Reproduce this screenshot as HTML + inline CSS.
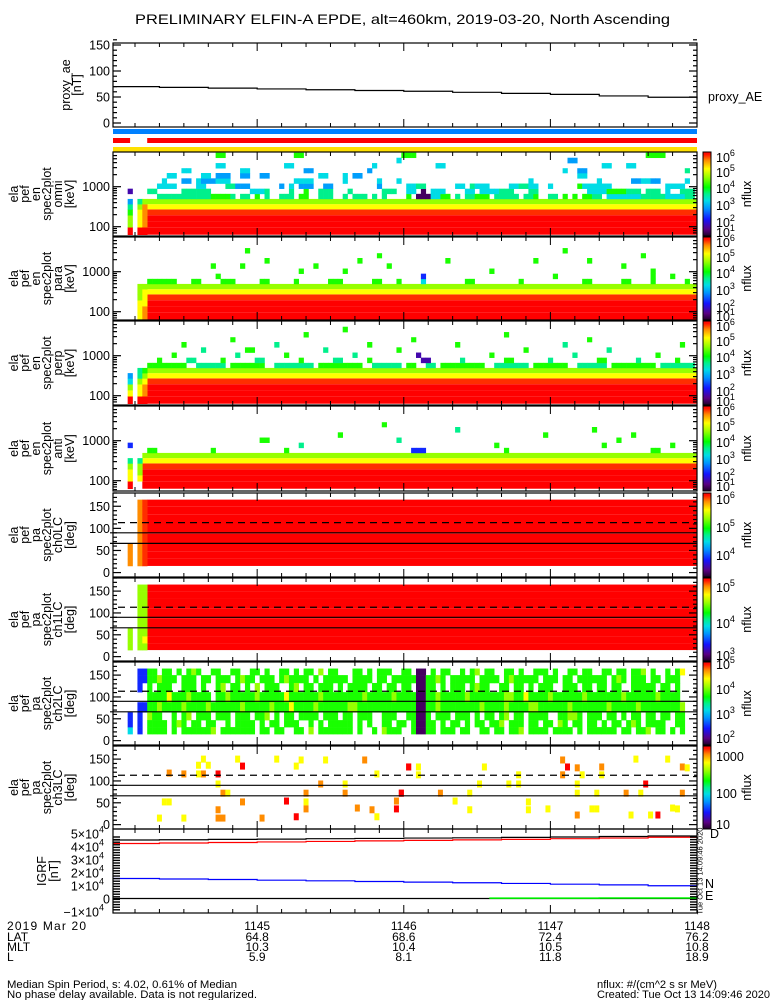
<!DOCTYPE html>
<html><head><meta charset="utf-8"><title>ELFIN-A EPDE</title>
<style>
html,body{margin:0;padding:0;background:#fff;}
svg{display:block;font-family:"Liberation Sans",sans-serif;}
text{fill:#000;}
</style></head>
<body>
<svg id="chart" width="775" height="1000" viewBox="0 0 775 1000" xmlns="http://www.w3.org/2000/svg">
<defs>
<linearGradient id="cmap" x1="0" y1="1" x2="0" y2="0">
<stop offset="0" stop-color="rgb(32,0,40)"/><stop offset="0.08" stop-color="rgb(90,0,130)"/><stop offset="0.2" stop-color="rgb(20,20,255)"/><stop offset="0.33" stop-color="rgb(0,150,255)"/><stop offset="0.42" stop-color="rgb(0,220,230)"/><stop offset="0.5" stop-color="rgb(0,240,140)"/><stop offset="0.58" stop-color="rgb(0,255,0)"/><stop offset="0.7" stop-color="rgb(150,255,0)"/><stop offset="0.8" stop-color="rgb(255,255,0)"/><stop offset="0.9" stop-color="rgb(255,140,0)"/><stop offset="0.97" stop-color="rgb(255,20,0)"/><stop offset="1" stop-color="rgb(255,0,0)"/>
</linearGradient>
</defs>
<text x="135" y="24" font-size="14" textLength="535" lengthAdjust="spacingAndGlyphs">PRELIMINARY ELFIN-A EPDE, alt=460km, 2019-03-20, North Ascending</text>
</svg>
<script>
// ---------------- data ----------------
const aeTimes = [1,20,40,60,80,100,120,140,160,180,200,220,240];
const aeValues = [70,68.5,67,65.5,64,62.5,61,59,57,55,52,49.5,47];
const xTickTimes = [60,120,180,240];
const xTickLabels = ['1145','1146','1147','1148'];
const latLabels = ['64.8','68.6','72.4','76.2'];
const mltLabels = ['10.3','10.4','10.5','10.8'];
const lLabels = ['5.9','8.1','11.8','18.9'];
const energyEdges = [63,97,138,194,271,367,495,663,893,1200,1620,2200,2900,3900,5300,7100];
const paEdges = [15,31,47,65,88,111,132,150,165];
const lossConeDashed = 113;
const lossConeSolid = [90,66];
// spectrogram P1 omni
const p1Bulk = ['r','r','r','R','y','l'];
const p1Left = [[3,['r','l','l','g','t','b',null,'q']],[5,['r','y','y','y','l','t']],[6,['r','o','o','o','o','l']]];
const p1Runs = [[6,9,12,'t'],[6,13,16,'t'],[6,17,19,'t'],[6,20,23,'g'],[6,24,24,'t'],[6,26,27,'t'],[6,29,29,'g'],[6,31,31,'t'],[6,34,36,'t'],[6,38,39,'g'],[6,42,44,'t'],[6,47,47,'t'],[6,49,51,'t'],[6,53,53,'t'],[6,55,55,'t'],[6,60,60,'g'],[6,62,64,'p'],[6,65,66,'c'],[6,67,68,'g'],[6,70,70,'t'],[6,72,73,'t'],[6,74,76,'g'],[6,78,82,'t'],[6,84,85,'t'],[6,86,86,'g'],[6,89,90,'t'],[6,92,92,'g'],[6,94,94,'g'],[6,96,97,'g'],[6,98,99,'t'],[6,101,107,'c'],[6,108,112,'t'],[6,113,116,'c'],[6,117,118,'t'],
[7,7,8,'t'],[7,14,16,'t'],[7,17,19,'t'],[7,28,30,'c'],[7,31,31,'t'],[7,36,36,'t'],[7,39,39,'g'],[7,42,44,'t'],[7,48,48,'t'],[7,55,57,'t'],[7,60,61,'c'],[7,63,63,'p'],[7,65,67,'c'],[7,72,73,'c'],[7,75,78,'c'],[7,79,81,'t'],[7,85,86,'t'],[7,97,100,'c'],[7,101,102,'g'],[7,103,104,'g'],[7,105,107,'t'],[7,109,111,'t'],[7,113,113,'c'],[7,116,118,'t'],
[8,9,10,'c'],[8,11,12,'c'],[8,17,18,'c'],[8,23,24,'t'],[8,25,27,'b'],[8,34,34,'b'],[8,36,36,'c'],[8,38,40,'b'],[8,43,44,'b'],[8,54,54,'b'],[8,60,61,'c'],[8,62,63,'t'],[8,70,71,'c'],[8,73,73,'t'],[8,74,76,'c'],[8,81,82,'c'],[8,83,84,'t'],[8,85,86,'c'],[8,89,89,'c'],[8,95,95,'g'],[8,96,97,'c'],[8,98,101,'c'],[8,113,116,'c'],
[9,10,10,'c'],[9,14,15,'b'],[9,17,17,'c'],[9,18,20,'b'],[9,21,23,'c'],[9,37,40,'c'],[9,47,47,'c'],[9,54,54,'c'],[9,58,58,'c'],[9,85,85,'c'],[9,99,99,'c'],[9,106,107,'b'],[9,108,109,'c'],[9,110,111,'b'],[9,117,117,'c'],
[10,11,12,'c'],[10,18,19,'c'],[10,21,23,'b'],[10,26,27,'b'],[10,30,31,'b'],[10,42,43,'c'],[10,47,47,'c'],[10,49,50,'b'],[10,95,96,'c'],
[11,14,15,'c'],[11,26,27,'c'],[11,39,40,'b'],[11,52,52,'b'],[11,92,92,'c'],[11,95,96,'b'],[11,117,117,'t'],
[12,21,22,'c'],[12,35,36,'c'],[12,53,53,'c'],[12,66,67,'c'],[12,100,101,'c'],[12,105,106,'c'],
[13,58,58,'c'],[13,93,94,'b'],
[14,21,22,'g'],[14,37,38,'g'],[14,59,61,'g'],[14,109,110,'g'],[14,111,112,'g']];
// P2 para
const p2Bulk = ['r','r','r','R','y','l'];
const p2Left = [[5,['y','y','y','l','l','l']],[6,['o','o','y','y','y','l']]];
const p2Runs = [[6,7,12,'g'],[6,16,17,'g'],[6,22,24,'g'],[6,30,31,'g'],[6,37,37,'g'],[6,44,46,'g'],[6,53,54,'g'],[6,58,58,'g'],[6,63,63,'c'],[6,72,73,'g'],[6,83,83,'g'],[6,96,97,'g'],[6,104,105,'g'],[6,110,110,'g'],[6,117,117,'g'],
[7,21,21,'g'],[7,63,63,'u'],[7,90,90,'g'],[7,110,110,'g'],[7,114,114,'g'],
[8,38,38,'g'],[8,47,47,'g'],[8,77,77,'g'],[8,110,110,'g'],
[9,20,20,'g'],[9,26,26,'g'],[9,41,41,'g'],[9,56,56,'g'],[9,104,104,'g'],
[10,31,31,'g'],[10,50,50,'g'],[10,68,68,'g'],[10,86,86,'g'],[10,97,97,'g'],
[11,54,54,'g'],[11,108,108,'g'],[12,27,27,'g'],[12,92,92,'g']];
// P3 perp
const p3Bulk = ['r','r','r','R','y','l'];
const p3Left = [[3,['r','y','l','c','b',null]],[5,['r','y','y','l','t','t']],[6,['r','o','o','y','l','g']]];
const p3Runs = [[6,7,14,'g'],[6,17,22,'t'],[6,24,30,'g'],[6,33,40,'t'],[6,42,50,'g'],[6,53,58,'t'],[6,60,61,'g'],[6,64,65,'t'],[6,67,75,'g'],[6,78,84,'t'],[6,86,92,'g'],[6,95,100,'t'],[6,102,110,'g'],[6,112,118,'t'],
[7,9,9,'g'],[7,15,16,'t'],[7,22,22,'g'],[7,29,30,'t'],[7,38,38,'g'],[7,45,46,'t'],[7,52,52,'g'],[7,63,64,'q'],[7,71,71,'t'],[7,80,81,'g'],[7,89,89,'t'],[7,99,100,'g'],[7,107,107,'t'],[7,115,115,'g'],
[8,12,12,'g'],[8,25,25,'t'],[8,35,35,'g'],[8,49,49,'t'],[8,62,62,'q'],[8,77,77,'g'],[8,94,94,'t'],[8,111,111,'g'],
[9,18,18,'t'],[9,27,28,'g'],[9,43,43,'t'],[9,58,58,'g'],[9,84,84,'g'],[9,101,101,'t'],
[10,14,14,'g'],[10,33,33,'t'],[10,52,52,'g'],[10,70,70,'g'],[10,92,92,'t'],[10,116,116,'g'],
[11,24,24,'g'],[11,61,61,'g'],[11,97,97,'g'],[12,39,39,'g'],[12,80,80,'g'],[13,47,47,'g']];
// P4 anti
const p4Bulk = ['r','r','r','R','y','l'];
const p4Left = [[3,['r','y','y','l','t',null,null,'u']],[5,[null,'y','l','l','t',null]]];
const p4Runs = [[6,7,8,'g'],[6,20,20,'g'],[6,35,35,'g'],[6,61,63,'u'],[6,80,80,'g'],[6,110,111,'g'],
[7,38,38,'t'],[7,78,78,'g'],[7,100,100,'g'],[7,114,114,'g'],
[8,30,31,'g'],[8,58,58,'t'],[8,103,103,'g'],[9,46,46,'g'],[9,88,88,'g'],[9,106,106,'g'],
[10,70,70,'t'],[10,98,98,'g'],[11,55,55,'g']];
// P5 ch0LC, P6 ch1LC pitch-angle bulk
const p5Bulk = ['r','r','r','r','r','r','r','r'];
const p5Left = [[3,['o','o','o',null,null,null,null,null]],[5,['o','o','o','o','o','o','o','o']],[6,['R','R','R','R','R','R','R','R']]];
const p6Bulk = ['r','r','r','r','r','r','r','r'];
const p6Left = [[3,['l','l','l',null,null,null,null,null]],[5,['l','l','l','l','l','l','l','l']],[6,['l','y','l','l','l','l','l','l']]];
// P7 ch2LC rows (top row first), columns from c=7
const p7Rows = [
"gg.gg.g.gl"+"g..gg..gg."+".gg.g..gg."+"g.gg.l.gg."+"..gg.g.ggg"+"..gg.pp.g."+"gg..g.gl.g"+"g..gg.g..g"+"gg.g..gg.g"+"g..gg.gg.g"+"gl.g..g.gy",
"gglggg.ggg"+".gg.ggg.gl"+"gg.ggg.glg"+"ggg.g.gggg"+"g.gggg.gg."+"gggggppggl"+"g.ggggg.gg"+"gg.glggggg"+".ggg.gg.gg"+"gggg.glg.g"+"gg.gg.ggg",
"g.ggg..ggg"+".g..gl.gg."+"g.l.ggg..g"+"l.gg.ggg.g"+".gggg.gg.g"+"g.gg.ppgg."+"g.ggg.glgg"+"..gg.gg.g."+"ggg..ggg.g"+"g.gg.gg..g"+"gggg.gg.g",
"ggggyggglg"+"ggg.gglggg"+"gglgggggyg"+"ggggglgggg"+"gggglggggg"+"lggggppggl"+"ggggglgggg"+"gggllggygg"+"gglggggggl"+"ggggggglgg"+"gggglgggg",
"gglgggglgg"+"gglggggggl"+"ggggglgggy"+"gggglggggg"+"gllggggggg"+"gggggppggl"+"gggggggglg"+"ggglggggll"+"gggggglggg"+"gggglggggg"+"lggggggggl",
"lgg..g.gl."+"ggg.ggg.gg"+"g.ggl.g.gg"+".gggg.ggg."+"gg.ggg..gg"+"g..ggppg.g"+"gg.ggg.g.g"+"g.gl.gg.gg"+"gg..ggllg."+"ggg.gg.g.g"+"g.gg.gg.gg",
"gggg.glg.g"+"g.gg..g.gg"+"gg.g.gg.gg"+"g..g.g.ggg"+"gg.g.g..gg"+".gg.gppgg."+"g.gg.g.gg."+"ggl.ggg.gg"+".gg.lg.gg."+"gg.g.gg.gl"+"g.gggg..gg",
"gggg.g.ggg"+"gggl.ggggg"+"gg.gg.gg.."+"gg.l.ggggg"+"gg.g..g.lg"+"gg..gppgg."+"ggg.gg..gg"+".gg.ggl.gg"+"gg.gggg.g."+"gggggg.gg."+"ggl.gg.g.g"];
const p7Left = [[3,['c','u','u',null,null,null,null,null]],[5,['u','u','u','u',null,'u','u','u']],[6,[null,null,null,'u',null,null,'u','u']]];
// P8 ch3LC sparse points: time (s after 11:44:00), pitch angle (deg), level code
const p8Times = [38,52,68,78,88,104,36,40,54,76,122,24,30,36,38,44,109,44,86,96,46,48,80,96,119,22,24,54,72,80,117,44,80,101,107,117,20,30,44,46,62,76,109,122,126,126,153,185,187,191,201,215,228,234,236,185,193,201,167,151,163,167,191,219,119,135,147,191,199,211,217,234,141,171,171,147,179,197,199,230,232,191,213,221,224];
const p8Pitch = [150,150,150,148,148,148,136,136,134,134,132,118,116,116,116,116,116,93,93,93,72,72,72,72,72,52,52,52,54,52,54,34,36,38,34,36,15,15,15,15,15,18,18,132,132,114,132,148,132,130,132,150,150,132,130,114,114,114,114,93,93,93,93,93,72,72,72,72,72,72,72,72,54,52,34,34,36,36,36,38,36,22,22,22,22];
const p8Levels = ['y','y','y','y','y','o','y','y','r','y','r','o','o','y','o','r','y','y','o','y','o','y','o','o','r','y','y','o','r','y','o','o','o','o','o','r','y','y','o','o','o','r','y','r','y','y','y','o','r','o','o','y','y','o','y','o','y','y','y','y','y','y','y','r','r','o','y','y','y','o','y','o','y','y','y','y','y','y','y','y','y','o','y','y','r'];
// IGRF components (units 1e4 nT)
const igTimes = [1,20,40,60,80,100,120,140,160,180,200,220,240];
const igF = [4.50,4.52,4.55,4.57,4.60,4.62,4.65,4.67,4.70,4.73,4.77,4.81,4.86];
const igD = [4.23,4.27,4.31,4.35,4.39,4.43,4.47,4.51,4.55,4.60,4.65,4.71,4.77];
const igN = [1.54,1.50,1.46,1.41,1.36,1.31,1.26,1.21,1.16,1.10,1.05,0.98,0.92];
const igETimes = [155,180,200,220,240];
const igE = [0.03,0.03,0.04,0.04,0.05];

// ---------------- helpers ----------------
const NS='http://www.w3.org/2000/svg';
const svg=document.getElementById('chart');
function mk(tag,attrs,parent){const e=document.createElementNS(NS,tag);for(const k in attrs)e.setAttribute(k,attrs[k]);(parent||svg).appendChild(e);return e;}
const X0=113,X1=697;
function tX(t){return X0+(t-1)*(X1-X0)/239;}
const LV={r:1,R:0.955,o:0.9,y:0.8,l:0.7,g:0.6,t:0.5,c:0.42,b:0.34,u:0.22,q:0.12,p:0.05};
const STOPS=[[0,[32,0,40]],[0.08,[90,0,130]],[0.2,[20,20,255]],[0.33,[0,150,255]],[0.42,[0,220,230]],[0.5,[0,240,140]],[0.58,[0,255,0]],[0.7,[150,255,0]],[0.8,[255,255,0]],[0.9,[255,140,0]],[0.97,[255,20,0]],[1,[255,0,0]]];
function col(code){const v=LV[code];for(let i=1;i<STOPS.length;i++){if(v<=STOPS[i][0]){const a=STOPS[i-1],b=STOPS[i];const f=(v-a[0])/(b[0]-a[0]);const c=a[1].map((x,k)=>Math.round(x+(b[1][k]-x)*f));return `rgb(${c[0]},${c[1]},${c[2]})`;}}return 'rgb(255,0,0)';}

const P=[
 {top:152,bot:236,kind:'spec',lab:['ela','pef','en','spec2plot','omni','[keV]'],bulk:p1Bulk,left:p1Left,runs:p1Runs,start:7,cb:[['10','6',5],['10','5',20],['10','4',36],['10','3',53],['10','2',70],['10','1',80]]},
 {top:237,bot:320,kind:'spec',lab:['ela','pef','en','spec2plot','para','[keV]'],bulk:p2Bulk,left:p2Left,runs:p2Runs,start:7,cb:[['10','6',5],['10','5',20],['10','4',36],['10','3',53],['10','2',70],['10','1',79]]},
 {top:321,bot:405,kind:'spec',lab:['ela','pef','en','spec2plot','perp','[keV]'],bulk:p3Bulk,left:p3Left,runs:p3Runs,start:7,cb:[['10','6',5],['10','5',20],['10','4',36],['10','3',53],['10','2',70],['10','1',80]]},
 {top:406,bot:491,kind:'spec',lab:['ela','pef','en','spec2plot','anti','[keV]'],bulk:p4Bulk,left:p4Left,runs:p4Runs,start:6,cb:[['10','6',5],['10','5',20],['10','4',36],['10','3',53],['10','2',70],['10','1',80]]},
 {top:493,bot:577,kind:'pa',lab:['ela','pef','pa','spec2plot','ch0LC','[deg]'],bulk:p5Bulk,left:p5Left,start:7,cb:[['10','6',6],['10','5',34],['10','4',62]]},
 {top:578,bot:661,kind:'pa',lab:['ela','pef','pa','spec2plot','ch1LC','[deg]'],bulk:p6Bulk,left:p6Left,start:7,cb:[['10','5',9],['10','4',45],['10','3',77]]},
 {top:662,bot:745,kind:'pa',lab:['ela','pef','pa','spec2plot','ch2LC','[deg]'],rows:p7Rows,left:p7Left,start:7,cb:[['10','5',2],['10','4',27],['10','3',52],['10','2',76]]},
 {top:746,bot:829,kind:'pa',lab:['ela','pef','pa','spec2plot','ch3LC','[deg]'],pts:true,cb:[['1000','',10],['100','',47],['10','',78]]}
];
function eY(E,p){return p.top+34.7-40*(Math.log10(E)-3);}
function paY(a,p){return p.bot-(a+10)*(p.bot-p.top)/190;}
function cellX(c){return tX(1+2*c);}
function cellW(c){return tX(3+2*c)-tX(1+2*c)+0.3;}

function xTicks(top,bot,name){
 for(let t=10;t<240;t+=10){
  const x=tX(t);const major=(t%60===0);const L=major?8:4;
  const a=mk('line',{x1:x,x2:x,y1:bot,y2:bot-L,stroke:'#000','stroke-width':1});
  
  
  const b=mk('line',{x1:x,x2:x,y1:top,y2:top+L,stroke:'#000','stroke-width':1});
  
  
 }
}
function frame(top,bot,name){
 const r=mk('rect',{x:X0,y:top,width:X1-X0,height:bot-top,fill:'none',stroke:'#000','stroke-width':1.2});
 
 
}
function yTick(y,L,name){
 const a=mk('line',{x1:X0,x2:X0+L,y1:y,y2:y,stroke:'#000','stroke-width':1.2});
 
 
 const b=mk('line',{x1:X1,x2:X1-L,y1:y,y2:y,stroke:'#000','stroke-width':1.2});
 
 
}
function yLabel(y,txt,name){
 const t=mk('text',{x:110,y:y+4.5,'font-size':12.5,'text-anchor':'end'});
 t.textContent=txt;
 
 
}
function axisTitle(lines,xs,ymid,name){
 lines.forEach((s,i)=>{
  const t=mk('text',{x:xs[i],y:ymid,'font-size':12.5,'text-anchor':'middle','dominant-baseline':'central',transform:`rotate(-90 ${xs[i]} ${ymid})`});
  t.textContent=s;
  
  
 });
}

// ---------------- proxy AE panel ----------------
const aeTop=43,aeBot=127;
function aeY(v){return 123-v*0.52;}
{
 let d='';
 aeTimes.forEach((t,i)=>{const x=tX(t),y=aeY(aeValues[i]);if(i===0)d+=`M${x},${y}`;else d+=`H${x}V${y}`;});
 d+=`H${X1}`;
 const pl=mk('path',{d:d,fill:'none',stroke:'#000','stroke-width':1.2});
 
 
 for(let v=0;v<=160;v+=10){yTick(aeY(v),v%50===0?8:4,'proxy-ae');}
 [0,50,100,150].forEach(v=>yLabel(aeY(v),String(v),'proxy-ae'));
 xTicks(aeTop,aeBot,'proxy-ae');
 frame(aeTop,aeBot,'proxy-ae');
 axisTitle(['proxy_ae','[nT]'],[66,77],(aeTop+aeBot)/2,'proxy-ae');
 const lt=mk('text',{x:708,y:101,'font-size':12.5});
 lt.textContent='proxy_AE';
 
 
}
// status bars
{
 const b1=mk('rect',{x:X0,y:129,width:X1-X0,height:5,fill:'rgb(0,128,255)'});
 
 
 const b2=mk('rect',{x:X0,y:138,width:tX(8)-X0,height:5,fill:'#ff0000'});
 
 
 const b3=mk('rect',{x:tX(15),y:138,width:X1-tX(15),height:5,fill:'#ff0000'});
 
 
 const b4=mk('rect',{x:X0,y:147,width:X1-X0,height:4.5,fill:'rgb(255,224,0)'});
 
 
}

// ---------------- spectrogram / pitch panels ----------------
const defs=svg.querySelector('defs');
P.forEach((p,pi)=>{
 const cp=mk('clipPath',{id:'clip'+pi},defs);
 mk('rect',{x:X0,y:p.top,width:X1-X0,height:p.bot-p.top},cp);
 const g=mk('g',{'clip-path':`url(#clip${pi})`});
 
 
 const rowY = p.kind==='spec' ? (b=>[eY(energyEdges[b+1],p),eY(energyEdges[b],p)]) : (b=>[paY(paEdges[b+1],p),paY(paEdges[b],p)]);
 if(p.bulk){
  p.bulk.forEach((code,b)=>{
   if(!code)return;
   const [y0,y1]=rowY(b);
   const r=mk('rect',{x:cellX(p.start),y:y0,width:X1-cellX(p.start)+2,height:y1-y0,fill:col(code)},g);
   
   
  });
 }
 const cell=(c,b,code)=>{
  const [y0,y1]=rowY(b);
  const r=mk('rect',{x:cellX(c),y:y0,width:cellW(c),height:y1-y0+0.3,fill:col(code)},g);
  
  
 };
 if(p.left){p.left.forEach(([c,arr])=>arr.forEach((code,b)=>{if(code)cell(c,b,code);}));}
 if(p.runs){p.runs.forEach(([b,c0,c1,code])=>{for(let c=c0;c<=c1;c++)cell(c,b,code);});}
 if(p.rows){
  p.rows.forEach((s,ri)=>{
   const b=p.rows.length-1-ri;
   for(let k=0;k<s.length;k++){const ch=s[k];if(ch!=='.'){const c=p.start+k;if(c<=118)cell(c,b,ch);}}
  });
 }
 if(p.pts){
  p8Times.forEach((t,i)=>{
   const x=tX(t),y=paY(p8Pitch[i],p);
   const r=mk('rect',{x:x-2.5,y:y-3.5,width:5,height:7,fill:col(p8Levels[i])},g);
   
   
  });
 }
 const name='panel-'+(pi+1);
 if(p.kind==='pa'){
  const dl=mk('line',{x1:X0+5,x2:X1,y1:paY(lossConeDashed,p),y2:paY(lossConeDashed,p),stroke:'#000','stroke-width':1.2,'stroke-dasharray':'7,5'});
  
  
  lossConeSolid.forEach(a=>{
   const sl=mk('line',{x1:X0-3,x2:X1,y1:paY(a,p),y2:paY(a,p),stroke:'#000','stroke-width':1.2});
   
   
  });
  for(let v=-10;v<=180;v+=10){if(v>=0)yTick(paY(v,p),v%50===0?8:4,name);}
  [0,50,100,150].forEach(v=>yLabel(paY(v,p),String(v),name));
 } else {
  for(let n=1;n<=3;n++){for(let k=1;k<=9;k++){const E=k*Math.pow(10,n);const y=eY(E,p);if(y>p.top+1&&y<p.bot-0.5)yTick(y,k===1?8:4,name);}}
  yLabel(eY(100,p),'100',name);yLabel(eY(1000,p),'1000',name);
 }
 xTicks(p.top,p.bot,name);
 frame(p.top,p.bot,name);
 axisTitle(p.lab,[14,25,36,47,58,70],(p.top+p.bot)/2,name);
 // colorbar
 const cb=mk('rect',{x:703,y:p.top,width:8,height:p.bot-p.top,fill:'url(#cmap)',stroke:'#000','stroke-width':1});
 
 
 p.cb.forEach(([base,ex,off])=>{
  const t=mk('text',{x:716,y:p.top+off+5,'font-size':12.5});
  t.textContent=base;
  if(ex){const s=mk('tspan',{dy:-6,'font-size':9},t);s.textContent=ex;}
  
  
 });
 const nf=mk('text',{x:747,y:(p.top+p.bot)/2,'font-size':12.5,'text-anchor':'middle','dominant-baseline':'central',transform:`rotate(-90 747 ${(p.top+p.bot)/2})`});
 nf.textContent='nflux';
 
 
});

// ---------------- IGRF panel ----------------
const igTop=829,igBot=913;
function igY(v){return 898.5-v*13;}
{
 const stepPath=(ts,vs,end)=>{let d='';ts.forEach((t,i)=>{const x=tX(t),y=igY(vs[i]);if(i===0)d+=`M${x},${y}`;else d+=`H${x}V${y}`;});return d+`H${end}`;};
 const z=mk('line',{x1:X0,x2:X1,y1:igY(0),y2:igY(0),stroke:'#000','stroke-width':1.2});
 
 
 const f=mk('path',{d:stepPath(igTimes,igF,X1),fill:'none',stroke:'#000','stroke-width':1.2});
 
 
 const dL=mk('path',{d:stepPath(igTimes,igD,X1),fill:'none',stroke:'#ff0000','stroke-width':1.2});
 
 
 const nL=mk('path',{d:stepPath(igTimes,igN,X1),fill:'none',stroke:'#0000ff','stroke-width':1.2});
 
 
 const eL=mk('path',{d:stepPath(igETimes,igE,X1),fill:'none',stroke:'#00ff00','stroke-width':1.5});
 
 
 for(let y=igTop+8;y<igBot-1;y+=2.6){
  const a=mk('line',{x1:X0,x2:X0+7,y1:y,y2:y,stroke:'#000','stroke-width':1.4});
  
  
  const b=mk('line',{x1:X1-7,x2:X1,y1:y,y2:y,stroke:'#000','stroke-width':1.4});
  
  
 }
 [[5,'5×10'],[4,'4×10'],[3,'3×10'],[2,'2×10'],[1,'1×10'],[0,'0'],[-1,'−1×10']].forEach(([v,s])=>{
  const t=mk('text',{x:v===0?110:104,y:igY(v)+5,'font-size':12.5,'text-anchor':'end'});
  t.textContent=s;
  if(v!==0){const sp=mk('tspan',{dy:-6,'font-size':9},t);sp.textContent='4';}
  
  
 });
 xTicks(igTop,igBot,'igrf');
 frame(igTop,igBot,'igrf');
 axisTitle(['IGRF','[nT]'],[42,54],(igTop+igBot)/2,'igrf');
 [['D',710,838,'#ff0000'],['N',705,888,'#0000ff'],['E',705,900,'#00dd00']].forEach(([s,x,y,c])=>{
  const t=mk('text',{x:x,y:y,'font-size':12.5,fill:c});
  t.textContent=s;
  
  
 });
 const rt=mk('text',{x:700,y:871,'font-size':7.5,'text-anchor':'middle','dominant-baseline':'central',transform:'rotate(-90 700 871)'});
 rt.textContent='Tue Oct 13 14:09:46 2020';
 
 
}

// ---------------- bottom labels ----------------
{
 const rowsY=[930,941,951,961];
 const left=[['2019 Mar 20',79],['LAT',0],['MLT',0],['L',0]];
 left.forEach(([s,w],i)=>{
  const t=mk('text',{x:7,y:rowsY[i],'font-size':12});
  if(w)t.setAttribute('textLength',w);
  t.textContent=s;
  
  
 });
 const cols=[xTickLabels,latLabels,mltLabels,lLabels];
 xTickTimes.forEach((tt,j)=>{
  cols.forEach((arr,i)=>{
   const t=mk('text',{x:tX(tt),y:rowsY[i],'font-size':12,'text-anchor':'middle'});
   t.textContent=arr[j];
   
   
  });
 });
 [['Median Spin Period, s: 4.02, 0.61% of Median',7,988,230],['No phase delay available. Data is not regularized.',7,998,250],['nflux: #/(cm^2 s sr MeV)',597,988,120],['Created: Tue Oct 13 14:09:46 2020',597,998,173]].forEach(([s,x,y,w])=>{
  const t=mk('text',{x:x,y:y,'font-size':11,textLength:w,lengthAdjust:'spacingAndGlyphs'});
  t.textContent=s;
  
  
 });
}
</script>
</body></html>
